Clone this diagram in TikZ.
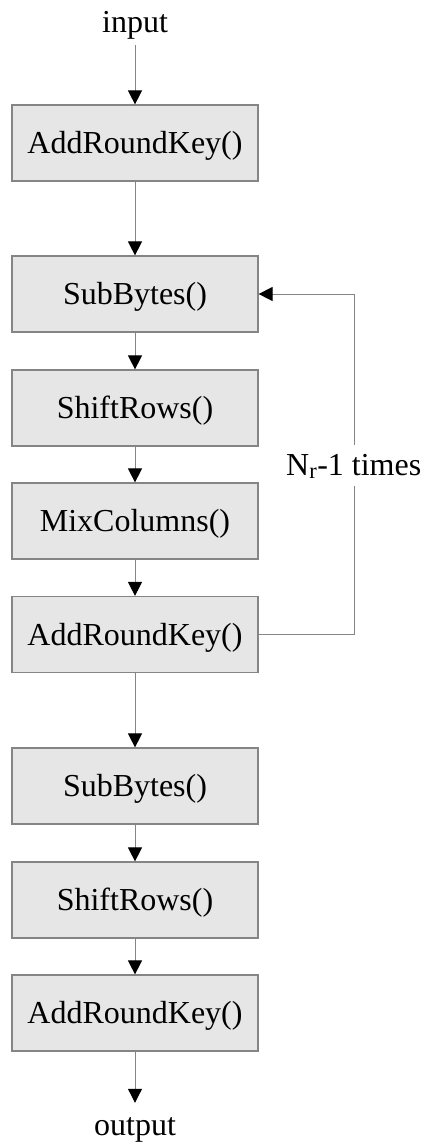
\documentclass[tikz,border=0pt]{standalone}
\usepackage{fontspec}
\setmainfont{Liberation Serif}
\usetikzlibrary{arrows.meta}
\definecolor{boxfill}{HTML}{E6E6E6}
\definecolor{edgegray}{HTML}{858585}
\begin{document}
\begin{tikzpicture}[x=1pt,y=-1pt,
  stage/.style={draw=edgegray, line width=1.2pt, fill=boxfill, minimum width=246pt, minimum height=76pt,
    inner sep=0pt, text height=23pt, text depth=2pt, font=\fontsize{32pt}{36pt}\selectfont},
  io/.style={inner sep=0pt, font=\fontsize{32pt}{36pt}\selectfont},
  flow/.style={draw=edgegray, line width=1pt, -{Triangle[width=14pt,length=14pt,color=black]}}
]
\useasboundingbox (0,0) rectangle (423,1144);
\node[io, anchor=base, text depth=13pt] (in) at (135,32) {input};
\node[stage] (b1) at (135,143) {AddRoundKey()};
\node[stage] (b2) at (135,294) {SubBytes()};
\node[stage] (b3) at (135,408) {ShiftRows()};
\node[stage] (b4) at (135,521) {MixColumns()};
\node[stage] (b5) at (135,634.5) {AddRoundKey()};
\node[stage] (b6) at (135,786) {SubBytes()};
\node[stage] (b7) at (135,900) {ShiftRows()};
\node[stage] (b8) at (135,1013) {AddRoundKey()};
\node[io, anchor=base, text height=32pt] (out) at (135,1135) {output};
\draw[flow] (in.south) -- (b1.north);
\draw[flow] (b1) -- (b2);
\draw[flow] (b2) -- (b3);
\draw[flow] (b3) -- (b4);
\draw[flow] (b4) -- (b5);
\draw[flow] (b5) -- (b6);
\draw[flow] (b6) -- (b7);
\draw[flow] (b7) -- (b8);
\draw[flow] (b8.south) -- (out.north);
\draw[flow] (b5.east) -- ++(96,0) coordinate (lc) |- (b2.east);
\node[io, anchor=base west, fill=white, text height=30pt, text depth=11pt] (lbl) at (286,475) {N\textsubscript{r}-1 times};
\end{tikzpicture}
\end{document}
